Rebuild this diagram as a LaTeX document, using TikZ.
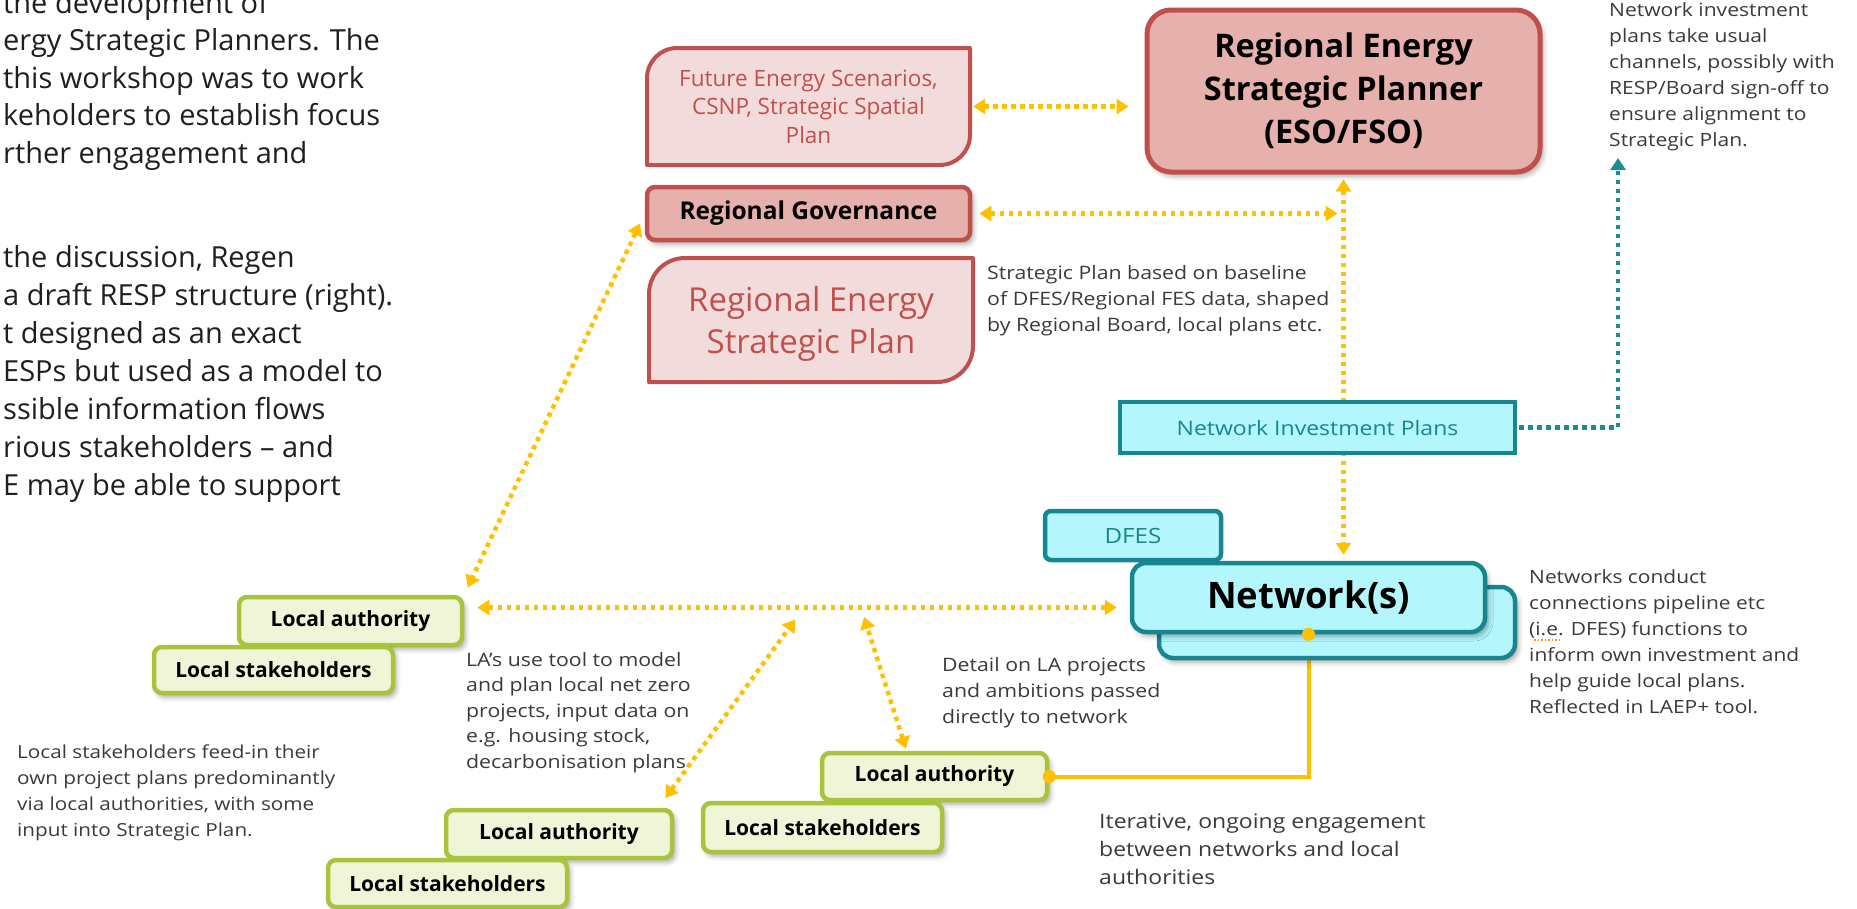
\documentclass[tikz,border=0pt]{standalone}
\usepackage{fontspec}
\setmainfont{Open Sans}
\newfontfamily\notefam[FakeStretch=1.15]{Open Sans}
\usetikzlibrary{arrows.meta,shadows,shadows.blur}

\definecolor{rspred}{HTML}{C0504D}
\definecolor{rsppink}{HTML}{E6B0AC}
\definecolor{rsplight}{HTML}{F2DCDB}
\definecolor{netteal}{HTML}{17868F}
\definecolor{netcyan}{HTML}{B3F6FB}
\definecolor{lagreen}{HTML}{A8C43C}
\definecolor{lalight}{HTML}{EFF5D6}
\definecolor{flowyel}{HTML}{FFC000}
\definecolor{notegray}{HTML}{3A3A3A}
\definecolor{paratext}{HTML}{1F1F1F}
\definecolor{flowteal}{HTML}{1B8C96}

\pgfdeclarelayer{flows}
\pgfsetlayers{flows,main}

\begin{document}
\begin{tikzpicture}[x=1pt,y=-1pt,
  softshadow/.style={blur shadow={shadow xshift=3pt,shadow yshift=-4pt,shadow blur radius=5pt,shadow opacity=35}},
  planbox/.style={draw=rspred,line width=5pt,fill=rsppink,rounded corners=24pt,inner sep=0pt,align=center,softshadow},
  govbox/.style={draw=rspred,line width=4.5pt,fill=rsppink,rounded corners=8pt,inner sep=0pt,softshadow},
  diagarea/.style={inner sep=0pt,align=center,text=rspred},
  diagshape/.style={draw=rspred,line width=4pt,fill=rsplight,line join=round},
  tealbox/.style={draw=netteal,line width=4.5pt,fill=netcyan,inner sep=0pt},
  greenbox/.style={draw=lagreen,line width=4.5pt,fill=lalight,rounded corners=8pt,inner sep=0pt,
    font=\fontsize{21}{26}\selectfont\bfseries,softshadow},
  note/.style={anchor=base west,inner sep=0pt,align=left,text=notegray,font=\notefam\fontsize{18.5}{26}\selectfont},
  flow/.style={draw=flowyel,line width=4.5pt,dash pattern=on 4.5pt off 4.5pt,
    >={Triangle[width=15pt,length=12pt]}},
  tealflow/.style={draw=flowteal,line width=4.5pt,dash pattern=on 4.5pt off 4.5pt,
    -{Triangle[width=15pt,length=12pt]}},
  linkline/.style={draw=flowyel,line width=4pt},
  linkdot/.style={fill=flowyel}
]
\useasboundingbox (0,0) rectangle (1857,908);
\clip (0,0) rectangle (1857,908);

% --- regional planning tier ---
\node[planbox,minimum width=393pt,minimum height=162pt,font=\fontsize{32.5}{43}\selectfont\bfseries]
  (planner) at (1343.5,91) {Regional Energy\\Strategic Planner\\(ESO/FSO)};

% frames with rounded top-left and bottom-right corners
\coordinate (fesNW) at (647,48);
\coordinate (fesSE) at (970,165);
\draw[diagshape] (fesNW |- fesSE) -- ([yshift=-30pt]fesNW)
  .. controls ([yshift=-13.5pt]fesNW) and ([xshift=13.5pt]fesNW) .. ([xshift=30pt]fesNW)
  -- (fesSE |- fesNW) -- ([yshift=30pt]fesSE)
  .. controls ([yshift=13.5pt]fesSE) and ([xshift=-13.5pt]fesSE) .. ([xshift=-30pt]fesSE)
  -- cycle;
\coordinate (rspNW) at (649,258);
\coordinate (rspSE) at (973,382);
\draw[diagshape] (rspNW |- rspSE) -- ([yshift=-36pt]rspNW)
  .. controls ([yshift=-16pt]rspNW) and ([xshift=16pt]rspNW) .. ([xshift=36pt]rspNW)
  -- (rspSE |- rspNW) -- ([yshift=36pt]rspSE)
  .. controls ([yshift=16pt]rspSE) and ([xshift=-16pt]rspSE) .. ([xshift=-36pt]rspSE)
  -- cycle;

\node[diagarea,minimum width=323pt,minimum height=117pt,font=\fontsize{22.5}{28.5}\selectfont]
  (fes) at (808.5,106.5) {Future Energy Scenarios,\\CSNP, Strategic Spatial\\Plan};
\node[govbox,minimum width=323pt,minimum height=53pt,font=\fontsize{24.5}{30}\selectfont\bfseries]
  (gov) at (808.5,213.5) {Regional Governance};
\node[diagarea,font=\fontsize{33}{42}\selectfont]
  (resplan) at (811,324) {Regional Energy\\Strategic Plan};

% --- network tier ---
\node[tealbox,minimum width=395pt,minimum height=51pt,text=netteal,font=\notefam\fontsize{20}{24}\selectfont]
  (nip) at (1317.5,427.5) {Network Investment Plans};
\node[tealbox,rounded corners=6pt,minimum width=176pt,minimum height=49pt,text=netteal,font=\notefam\fontsize{21}{24}\selectfont]
  (dfes) at (1133,535.5) {DFES};
\node[tealbox,rounded corners=14pt,minimum width=356pt,minimum height=71pt,softshadow]
  (netback) at (1337,622.5) {};
\node[tealbox,rounded corners=14pt,minimum width=353pt,minimum height=69pt,softshadow,font=\fontsize{36.5}{40}\selectfont\bfseries]
  (net) at (1308.5,597.5) {Network(s)};

% --- local tier ---
\node[greenbox,minimum width=223pt,minimum height=48pt] (la1) at (350.5,621) {Local authority};
\node[greenbox,minimum width=239pt,minimum height=46pt] (ls1) at (273.5,670) {Local stakeholders};
\node[greenbox,minimum width=226pt,minimum height=48pt] (la2) at (559,834) {Local authority};
\node[greenbox,minimum width=239pt,minimum height=47pt] (ls2) at (447.5,883.5) {Local stakeholders};
\node[greenbox,minimum width=225pt,minimum height=47pt] (la3) at (934.5,776.5) {Local authority};
\node[greenbox,minimum width=239pt,minimum height=49pt] (ls3) at (822.5,827.5) {Local stakeholders};

% --- annotations (anchored on the baseline of their last line) ---
\node[note] (stratnote) at (987,331) {Strategic Plan based on baseline\\of DFES/Regional FES data, shaped\\by Regional Board, local plans etc.};
\node[note,font=\notefam\fontsize{18.5}{25.5}\selectfont] (lanote) at (466,768) {LA’s use tool to model\\and plan local net zero\\projects, input data on\\e.g. housing stock,\\decarbonisation plans};
\node[note,font=\notefam\fontsize{18}{26}\selectfont] (lsnote) at (17,836) {Local stakeholders feed-in their\\own project plans predominantly\\via local authorities, with some\\input into Strategic Plan.};
\node[note] (detailnote) at (942,723) {Detail on LA projects\\and ambitions passed\\directly to network};
\node[note,font=\notefam\fontsize{20}{28}\selectfont] (iternote) at (1099,884.5) {Iterative, ongoing engagement\\between networks and local\\authorities};
\node[note,font=\notefam\fontsize{18.2}{26}\selectfont] (netnote) at (1529,713) {Networks conduct\\connections pipeline etc\\(i.e. DFES) functions to\\inform own investment and\\help guide local plans.\\Reflected in LAEP+ tool.};
\node[note,font=\notefam\fontsize{18.3}{26}\selectfont] (invnote) at (1609,146) {Network investment\\plans take usual\\channels, possibly with\\RESP/Board sign-off to\\ensure alignment to\\Strategic Plan.};
\draw[draw=orange!80!flowyel,line width=1.5pt,dash pattern=on 1.5pt off 2pt]
  ([xshift=5pt,yshift=73pt]netnote.base west) -- ++(26,0);

% --- body text ---
\node[note,text=paratext,font=\fontsize{29}{37.5}\selectfont] (introa) at (3,163)
  {the development of\\ergy Strategic Planners. The\\this workshop was to work\\keholders to establish focus\\rther engagement and};
\node[note,text=paratext,font=\fontsize{29}{38}\selectfont] (introb) at (3,495)
  {the discussion, Regen\\a draft RESP structure (right).\\t designed as an exact\\ESPs but used as a model to\\ssible information flows\\rious stakeholders – and\\E may be able to support};

% --- information flows ---
\coordinate (hR) at ([yshift=-10pt]net.west);
\coordinate (invtip) at (1618,158);
\begin{pgfonlayer}{flows}
  \draw[flow,<->,shorten <=3pt,shorten >=16pt] (fes.east) -- (fes.east -| planner.west);
  \draw[flow,<->,shorten <=7pt,shorten >=6pt] (gov.east) -- (gov.east -| planner.south);
  \draw[flow,<->,shorten <=5pt,shorten >=6pt] (planner.south) -- (planner.south |- net.north);
  \draw[flow,<->,shorten <=11pt,shorten >=8pt] (gov.west) -- (la1.north east);
  \draw[flow,<->,shorten <=13pt,shorten >=13pt] (la1.east |- hR) -- (hR);
  \draw[flow,<->,shorten <=12pt,shorten >=15pt] ([xshift=-16pt]la2.north east) -- (804,0 |- hR);
  \draw[flow,<->,shorten <=2pt,shorten >=10pt] ([xshift=-28pt]la3.north) -- (861,0 |- hR);
  \draw[tealflow,shorten <=2pt] (nip.east) -| (invtip);
  \draw[linkline] (la3.east) -| (net.south);
\end{pgfonlayer}
\fill[linkdot] (la3.east) circle (6.5pt);
\fill[linkdot] (net.south) circle (6.5pt);
\end{tikzpicture}
\end{document}
